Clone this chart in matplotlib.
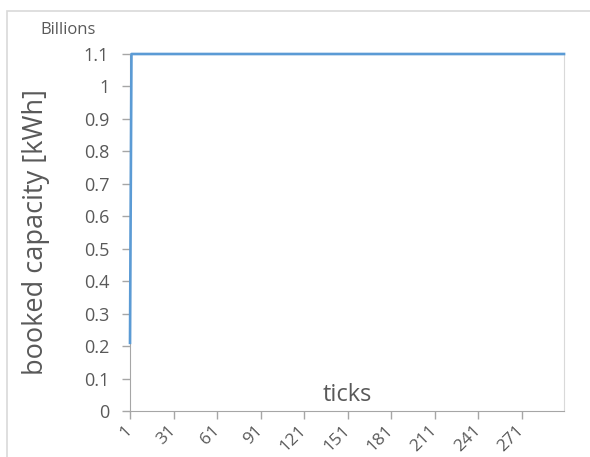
import numpy as np
import matplotlib.pyplot as plt
from matplotlib.patches import Rectangle

# booked capacity per tick, in billions of kWh
ticks = list(range(1, 301))
capacity = [0.21] + [1.1] * 299

x_labels = [str(t) for t in range(1, 301, 30)]
y_ticks = [round(0.1 * i, 1) for i in range(12)]
y_labels = ["0", "0.1", "0.2", "0.3", "0.4", "0.5", "0.6", "0.7", "0.8", "0.9", "1", "1.1"]

plt.rcParams['font.family'] = ['Open Sans', 'DejaVu Sans']

fig = plt.figure(figsize=(5.9, 4.57), dpi=100)
ax = fig.add_axes([130 / 590, 1 - 411 / 457, 434 / 590, 357 / 457])

fig.patches.append(Rectangle((7 / 590, -0.1), 1.2, 1 - 11 / 457 + 0.1,
                             transform=fig.transFigure, fill=False,
                             edgecolor='#d9d9d9', linewidth=1.2))

ax.plot(ticks, capacity, color='#5b9bd5', linewidth=1.9,
        clip_on=False, zorder=5)

ax.set_xlim(1, 300)
ax.set_ylim(0, 1.1)
ax.set_xticks(list(range(1, 301, 30)))
ax.set_xticklabels(x_labels, rotation=45, ha='right', va='center',
                   rotation_mode='anchor')
ax.set_yticks(y_ticks)
ax.set_yticklabels(y_labels)

ax.tick_params(axis='both', colors='#a6a6a6', labelcolor='#595959',
               labelsize=13, length=6, width=1)
ax.tick_params(axis='y', pad=9)
ax.tick_params(axis='x', pad=6, labelsize=12.5)

for s in ['left', 'bottom']:
    ax.spines[s].set_color('#a6a6a6')
for s in ['right', 'top']:
    ax.spines[s].set_color('#d9d9d9')

ax.set_ylabel("booked capacity [kWh]", fontsize=19.5, color='#595959')
ax.yaxis.set_label_coords(-0.184, 0.5)
ax.text(0.5, 0.045, "ticks", transform=ax.transAxes, ha='center', va='center',
        fontsize=17, color='#595959')
fig.text(40 / 590, 1 - 30 / 457, "Billions", ha='left', va='center',
         fontsize=12, color='#595959')

fig.savefig("out.png", dpi=100)
